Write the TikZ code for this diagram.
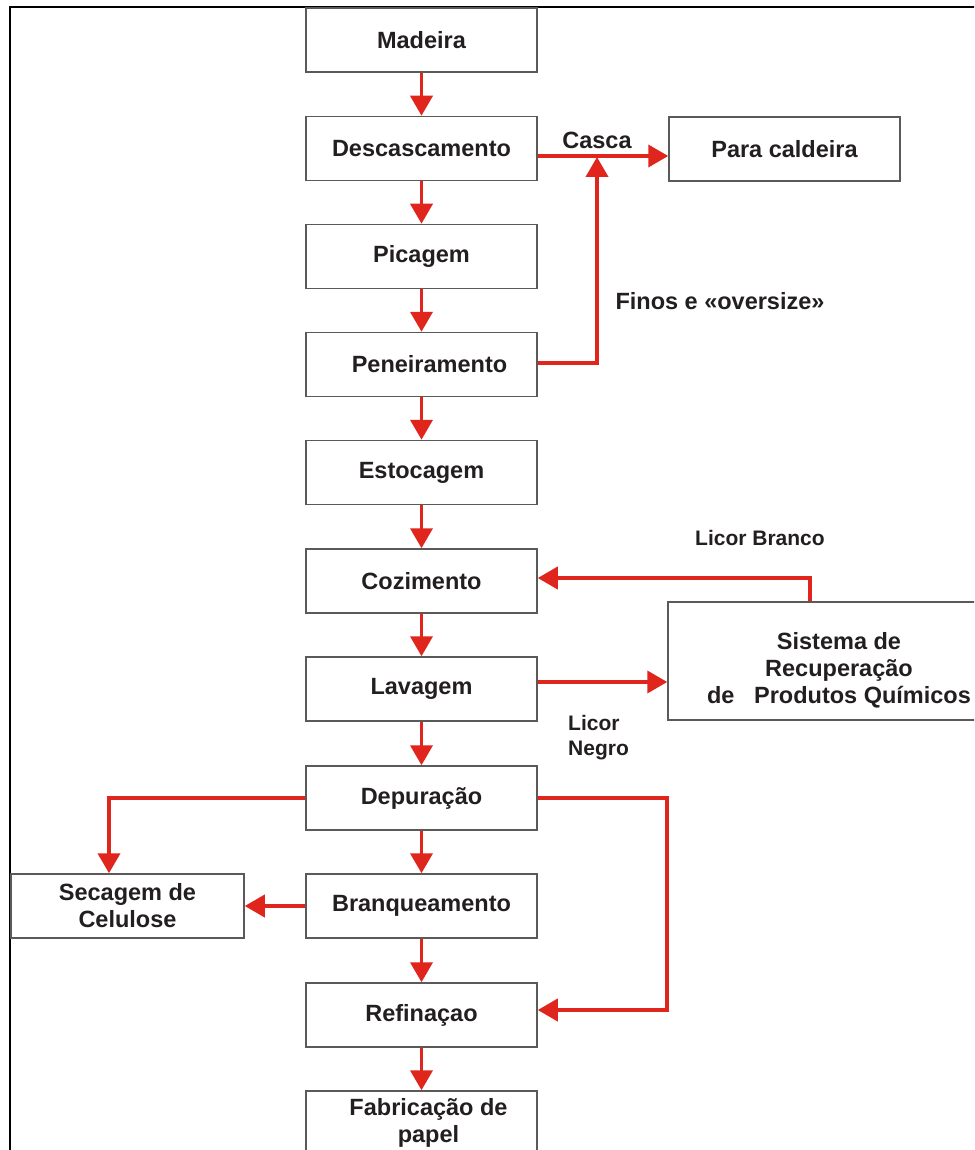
\documentclass[tikz,border=0pt]{standalone}
\usepackage{fontspec}
\setmainfont{Liberation Sans}
\usetikzlibrary{arrows.meta}
\definecolor{flowred}{HTML}{E0251D}
\definecolor{txt}{HTML}{231F20}
\definecolor{boxline}{HTML}{5A5A5A}
\tikzset{
  stepbox/.style={draw=boxline, line width=1.5pt, minimum width=231pt, minimum height=64pt, inner sep=0pt, align=center, text=txt, font=\fontsize{23.5}{27}\selectfont\bfseries},
  lbl/.style={text=txt, inner sep=0pt, align=center, font=\fontsize{23.5}{27}\selectfont\bfseries},
  slbl/.style={text=txt, inner sep=0pt, align=left, font=\fontsize{21}{25}\selectfont\bfseries},
  arr/.style={draw=flowred, line width=3.8pt, -{Triangle[length=20pt,width=22pt]}, shorten >=0pt}
}
\begin{document}
\begin{tikzpicture}[x=1pt,y=-1pt]
\clip (0,0) rectangle (974,1150);
\fill[white] (0,0) rectangle (974,1150);
\draw[black, line width=2.5pt] (10,1170) -- (10,7) -- (990,7);
% main column
\node[stepbox] (mad) at (421.5,40) {Madeira};
\node[stepbox] (des) at (421.5,148.5) {Descascamento};
\node[stepbox] (pic) at (421.5,256.5) {Picagem};
\node[stepbox] (pen) at (421.5,364.5) {\hspace{16pt}Peneiramento};
\node[stepbox] (est) at (421.5,472.5) {Estocagem};
\node[stepbox] (coz) at (421.5,581) {Cozimento};
\node[stepbox] (lav) at (421.5,689) {Lavagem};
\node[stepbox] (dep) at (421.5,798) {Depuração};
\node[stepbox] (bra) at (421.5,906) {Branqueamento};
\node[stepbox] (ref) at (421.5,1015) {Refinaçao};
\node[stepbox] (fab) at (421.5,1123) {\hspace{14pt}Fabricação de\\\hspace{14pt}papel};
% side boxes
\node[stepbox] (cal) at (784.5,149) {Para caldeira};
\node[stepbox, minimum width=342pt, minimum height=118pt] (sis) at (839,661) {};
\node[lbl] (sistxt) at (839,670) {Sistema de\\Recuperação\\de~~~Produtos Químicos};
\node[stepbox, minimum width=233pt] (sec) at (127.5,906) {Secagem de\\Celulose};
% labels
\node[lbl] (lcasca) at (597,140) {Casca};
\node[lbl] (lfinos) at (720,301) {Finos e «oversize»};
\node[slbl] (lbranco) at (760,538) {Licor Branco};
\node[slbl, anchor=north west] (lnegro) at (568,715) {Licor\\Negro};
% vertical flow
\draw[arr] (mad.south) -- (des.north);
\draw[arr] (des.south) -- (pic.north);
\draw[arr] (pic.south) -- (pen.north);
\draw[arr] (pen.south) -- (est.north);
\draw[arr] (est.south) -- (coz.north);
\draw[arr] (coz.south) -- (lav.north);
\draw[arr] (lav.south) -- (dep.north);
\draw[arr] (dep.south) -- (bra.north);
\draw[arr] (bra.south) -- (ref.north);
\draw[arr] (ref.south) -- (fab.north);
% side flows
\coordinate (join) at (597,157);
\draw[arr] ([yshift=-7.5pt]des.east) -- ([yshift=-7.5pt]des.east -| cal.west);
\draw[arr] ([yshift=1.5pt]pen.east) -| (join);
\draw[arr] ([xshift=143pt]sis.north west) |- ([yshift=3pt]coz.east);
\draw[arr] ([yshift=7pt]lav.east) -- ([yshift=7pt]lav.east -| sis.west);
\draw[arr] (dep.west) -| ([xshift=-18.5pt]sec.north);
\draw[arr] (dep.east) -- (dep.east -| sis.west) |- ([yshift=5pt]ref.east);
\draw[arr] (bra.west) -- (sec.east);
\end{tikzpicture}
\end{document}
